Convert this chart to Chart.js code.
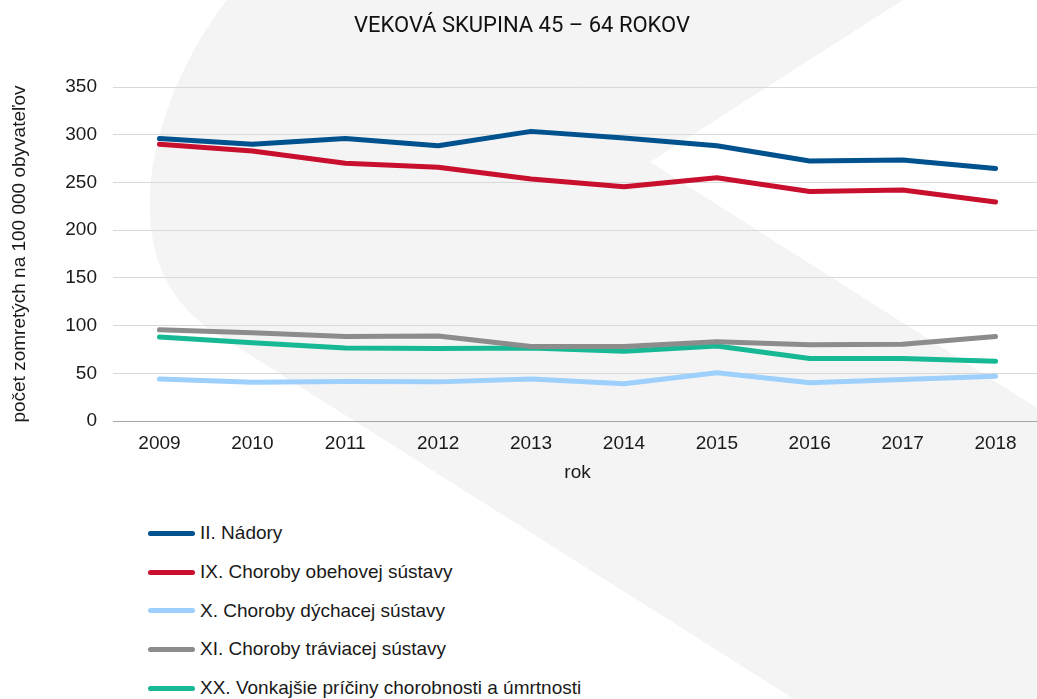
<!DOCTYPE html>
<html lang="sk">
<head>
<meta charset="utf-8">
<title>Veková skupina 45 – 64 rokov</title>
<script src="https://cdn.jsdelivr.net/npm/chart.js@4.4.1/dist/chart.umd.min.js"></script>
<style>
    html, body {
        margin: 0;
        padding: 0;
        background: #ffffff;
        overflow: hidden;
    }
    #wrap {
        position: relative;
        width: 1037px;
        height: 699px;
        overflow: hidden;
    }
    #bg {
        position: absolute;
        left: 0;
        top: 0;
    }
    #chartBox {
        position: absolute;
        left: 0;
        top: 0;
        width: 1045px;
        height: 500px;
    }
    #legend {
        position: absolute;
        left: 148px;
        top: 514px;
        font-family: "Liberation Sans", Arial, sans-serif;
        font-size: 19px;
        color: #1a1a1a;
    }
    .item {
        display: flex;
        align-items: center;
        height: 38.7px;
    }
    .swatch {
        width: 47px;
        height: 5px;
        border-radius: 3px;
        margin-right: 5px;
    }
</style>
</head>
<body>
<div id="wrap">
    <svg id="bg" width="1037" height="699">
        <path d="M227,0 C178,62 146,150 150,215 C153,270 175,308 220,336 L794,699 L1037,699 L1037,408 L650,162 L903,0 Z" fill="#f4f4f4"/>
    </svg>
    <div id="chartBox"><canvas id="mortalityChart"></canvas></div>
    <div id="legend"></div>
</div>
<script>
const years = ["2009", "2010", "2011", "2012", "2013", "2014", "2015", "2016", "2017", "2018"];

const nadory = [296, 290, 296, 288.5, 303.5, 296.5, 288.5, 272.5, 273.5, 264.5];
const obehova = [290, 283, 270, 266, 253.5, 245.5, 255, 240.5, 242, 229.5];
const dychacia = [44, 40.5, 41.5, 41, 44, 39, 50.5, 40, 43.5, 47];
const traviaca = [95.5, 92.5, 88.5, 89, 78, 78, 83, 80, 80.5, 88.5];
const vonkajsie = [88, 82, 76.5, 76, 76.5, 73, 78.5, 65.5, 65.5, 62.5];

const seriesNames = [
    "II. Nádory",
    "IX. Choroby obehovej sústavy",
    "X. Choroby dýchacej sústavy",
    "XI. Choroby tráviacej sústavy",
    "XX. Vonkajšie príčiny chorobnosti a úmrtnosti",
];
const seriesColors = ["#00528f", "#c8102e", "#9dd0fc", "#8c8c8c", "#17b994"];

const chartCanvas = document.getElementById("mortalityChart");
const legendBox = document.getElementById("legend");

Chart.defaults.font.family = '"Liberation Sans", Arial, sans-serif';
Chart.defaults.font.size = 19;
Chart.defaults.color = "#1a1a1a";

function makeDataset(label, values, color) {
    return {
        label: label,
        data: values,
        borderColor: color,
        backgroundColor: color,
        borderWidth: 5,
        borderCapStyle: "round",
        borderJoinStyle: "round",
        pointRadius: 0,
        tension: 0,
        fill: false,
    };
}

const allValues = [nadory, obehova, dychacia, traviaca, vonkajsie];

const mortalityChart = new Chart(chartCanvas, {
    type: "line",
    data: {
        labels: years,
        datasets: allValues.map((v, i) => makeDataset(seriesNames[i], v, seriesColors[i])),
    },
    options: {
        responsive: true,
        maintainAspectRatio: false,
        animation: false,
        layout: {
            padding: { left: 2, right: 3, top: 0, bottom: 0 },
        },
        plugins: {
            legend: { display: false },
            tooltip: { enabled: false },
            title: {
                display: true,
                text: "VEKOVÁ SKUPINA 45 – 64 ROKOV",
                color: "#111111",
                font: { family: "Roboto, sans-serif", size: 22, weight: "normal" },
                padding: { top: 13, bottom: 47.6 },
            },
        },
        scales: {
            x: {
                offset: true,
                grid: { display: false, drawTicks: false },
                border: { display: true, color: "#a6a6a6", width: 1 },
                ticks: { padding: 11, maxRotation: 0 },
                title: {
                    display: true,
                    text: "rok",
                    padding: { top: 4, bottom: 15.6 },
                },
                afterFit: (scale) => {
                    scale.height = 79;
                },
            },
            y: {
                min: 0,
                max: 350,
                ticks: { stepSize: 50, padding: 16 },
                border: { display: false },
                grid: {
                    drawTicks: false,
                    color: (ctx) => (ctx.tick && ctx.tick.value === 0 ? "#a6a6a6" : "#d9d9d9"),
                    lineWidth: 1,
                },
                title: {
                    display: true,
                    text: "počet zomretých na 100 000 obyvateľov",
                    padding: { top: 6.6, bottom: 4 },
                },
                afterFit: (scale) => {
                    scale.width = 111;
                },
            },
        },
    },
});

function buildLegend() {
    legendBox.innerHTML = "";
    mortalityChart.data.datasets.forEach((ds) => {
        const row = document.createElement("div");
        row.className = "item";
        const sw = document.createElement("span");
        sw.className = "swatch";
        sw.style.background = ds.borderColor;
        const txt = document.createElement("span");
        txt.textContent = ds.label;
        row.appendChild(sw);
        row.appendChild(txt);
        legendBox.appendChild(row);
    });
}

buildLegend();
</script>
</body>
</html>
